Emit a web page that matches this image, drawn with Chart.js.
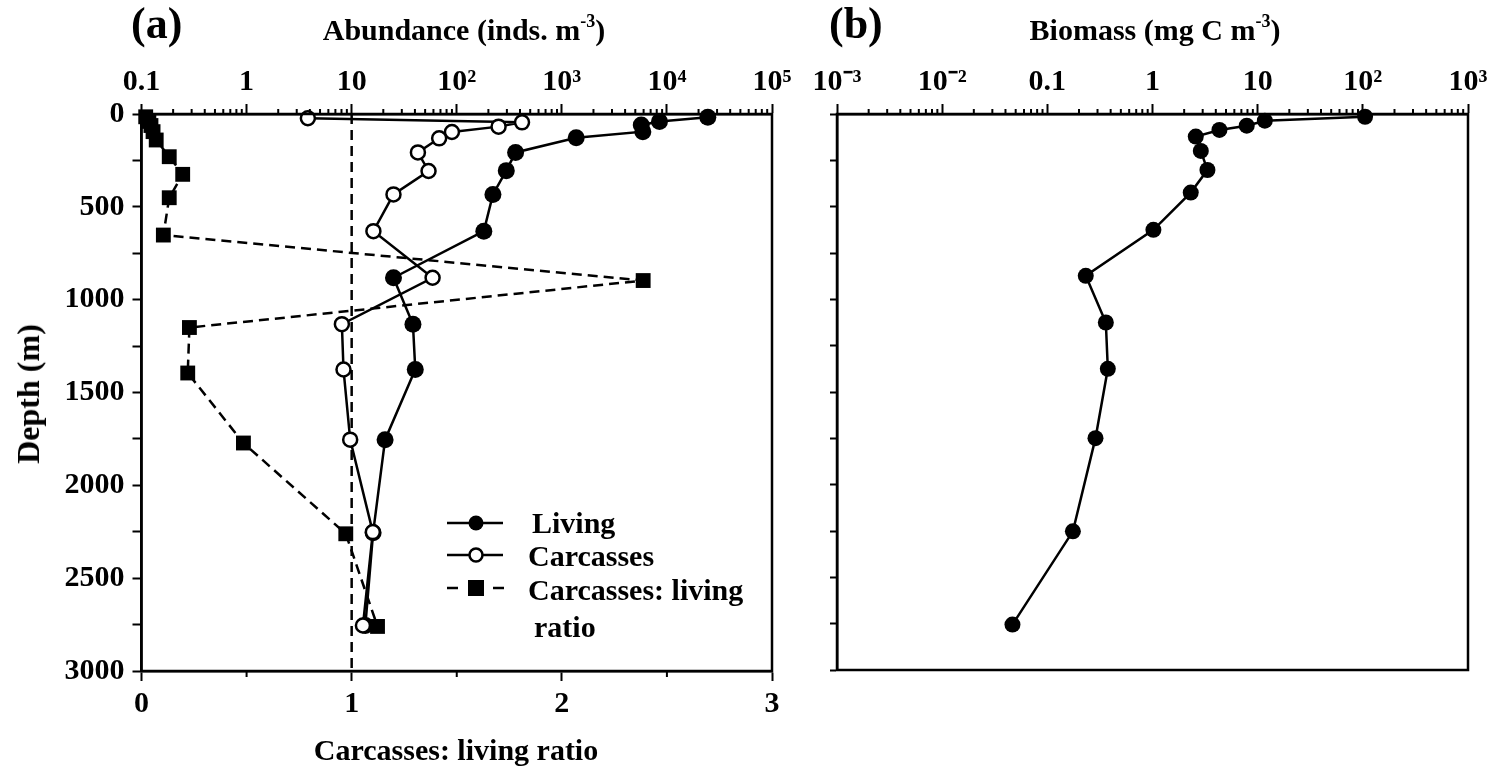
<!DOCTYPE html>
<html><head><meta charset="utf-8">
<script src="https://cdn.jsdelivr.net/npm/chart.js@4.4.1/dist/chart.umd.min.js"></script>
<style>
html,body{margin:0;padding:0;background:#fff;}
body{width:1499px;height:772px;overflow:hidden;position:relative;font-family:"Liberation Serif","Times New Roman",serif;font-weight:bold;color:#000;}
canvas{position:absolute;top:0;}
.t{position:absolute;white-space:nowrap;line-height:1;}
.c{transform:translateX(-50%);}
sup{font-size:60%;vertical-align:0;position:relative;top:-0.7em;}
</style></head><body>
<canvas id="ca" width="800" height="772" style="left:0"></canvas>
<canvas id="cb" width="699" height="772" style="left:800px"></canvas>

<div class="t" style="left:131px;top:2px;font-size:44px;">(a)</div>
<div class="t c" style="left:464px;top:15px;font-size:30px;">Abundance (inds. m<sup>-3</sup>)</div>
<div class="t" style="left:829px;top:2px;font-size:44px;">(b)</div>
<div class="t c" style="left:1155px;top:15px;font-size:30px;">Biomass (mg C m<sup>-3</sup>)</div>
<div class="t" style="left:28px;top:394px;font-size:32px;transform:translate(-50%,-50%) rotate(-90deg);">Depth (m)</div>
<div class="t c" style="left:456px;top:735px;font-size:30px;">Carcasses: living ratio</div>

<svg style="position:absolute;left:0;top:0" width="800" height="772">
  <line x1="447" y1="523" x2="503" y2="523" stroke="#000" stroke-width="2.5"/>
  <circle cx="476" cy="523" r="7.5" fill="#000"/>
  <line x1="447" y1="555" x2="503" y2="555" stroke="#000" stroke-width="2.5"/>
  <circle cx="476" cy="555" r="6.5" fill="#fff" stroke="#000" stroke-width="2.5"/>
  <line x1="447" y1="588" x2="458" y2="588" stroke="#000" stroke-width="2.5"/>
  <line x1="493" y1="588" x2="504" y2="588" stroke="#000" stroke-width="2.5"/>
  <rect x="468" y="580" width="16" height="16" fill="#000"/>
</svg>
<div class="t" style="left:532px;top:508px;font-size:30px;">Living</div>
<div class="t" style="left:528px;top:541px;font-size:30px;">Carcasses</div>
<div class="t" style="left:528px;top:575px;font-size:30px;">Carcasses: living</div>
<div class="t" style="left:534px;top:612px;font-size:30px;">ratio</div>

<script>
// ---------- data ----------
const livingDepth = [18, 41, 59, 95, 128, 207, 305, 433, 631, 882, 1132, 1376, 1754, 2255, 2755];
const livingAbund = [24500, 8500, 5700, 5900, 1370, 363, 296, 221, 181, 25, 38.3, 40.3, 20.8, 16, 13.5];

const carcDepth = [23, 45, 68, 97, 131, 207, 307, 433, 631, 882, 1132, 1376, 1754, 2252, 2755];
const carcAbund = [3.83, 418, 250, 90, 68, 42.7, 53.9, 25.0, 16.1, 58.9, 8.07, 8.36, 9.68, 15.9, 12.8];

const ratioDepth = [15, 40, 62, 95, 140, 230, 325, 451, 652, 897, 1150, 1395, 1772, 2261, 2760];
const ratioValue = [0.02, 0.035, 0.045, 0.055, 0.07, 0.132, 0.196, 0.132, 0.104, 2.387, 0.228, 0.22, 0.485, 0.972, 1.123];

const refLineRatio = [1, 1];
const refLineDepth = [0, 3000];

const bioDepth = [15, 36, 63, 86, 122, 199, 302, 424, 625, 873, 1125, 1375, 1749, 2252, 2755];
const biomass = [105, 11.7, 7.87, 4.33, 2.58, 2.88, 3.33, 2.31, 1.02, 0.232, 0.36, 0.376, 0.287, 0.175, 0.0466];

const abundTicks = [0.1, 1, 10, 100, 1000, 10000, 100000];
const abundLabels = ['0.1', '1', '10', '10\u00B2', '10\u00B3', '10\u2074', '10\u2075'];
const bioTicks = [0.001, 0.01, 0.1, 1, 10, 100, 1000];
const bioLabels = ['10\u207B\u00B3', '10\u207B\u00B2', '0.1', '1', '10', '10\u00B2', '10\u00B3'];
const ratioTicks = [0, 1, 2, 3];
const ratioLabels = ['0', '1', '2', '3'];
const depthTicks = [0, 250, 500, 750, 1000, 1250, 1500, 1750, 2000, 2250, 2500, 2750, 3000];
const depthLabels = ['0', '', '500', '', '1000', '', '1500', '', '2000', '', '2500', '', '3000'];
const ratioMinor = [0.5, 1.5, 2.5];

// ---------- helpers ----------
const pts = (xs, ys) => xs.map((x, i) => ({x: x, y: ys[i]}));
function logMinors(lo, hi) {
  const out = [];
  for (let e = lo; e < hi; e++) for (let k = 2; k <= 9; k++) out.push(k * Math.pow(10, e));
  return out;
}
const FONT = '"Liberation Serif", "Times New Roman", serif';
const tickFont = {family: FONT, size: 30, weight: 'bold'};

const minorTicks = {
  id: 'minorTicks',
  afterDraw(chart, args, opts) {
    const ctx = chart.ctx;
    (opts.list || []).forEach(m => {
      const s = chart.scales[m.scale];
      if (!s) return;
      ctx.save();
      ctx.strokeStyle = '#000';
      ctx.lineWidth = 2;
      m.values.forEach(v => {
        const p = s.getPixelForValue(v);
        ctx.beginPath();
        if (m.side === 'top') { ctx.moveTo(p, s.bottom); ctx.lineTo(p, s.bottom - m.len); }
        else if (m.side === 'bottom') { ctx.moveTo(p, s.top); ctx.lineTo(p, s.top + m.len); }
        ctx.stroke();
      });
      ctx.restore();
    });
  }
};
const boxPlugin = {
  id: 'boxPlugin',
  afterDraw(chart) {
    const a = chart.chartArea, ctx = chart.ctx;
    ctx.save();
    ctx.strokeStyle = '#000';
    ctx.lineWidth = 2.5;
    ctx.strokeRect(a.left, a.top, a.right - a.left, a.bottom - a.top);
    ctx.restore();
  }
};

const axisGrid = len => ({drawOnChartArea: false, drawTicks: true, tickLength: len, tickWidth: 2, tickColor: '#000'});
const axisBorder = {display: true, color: '#000', width: 2.5};

// ---------- chart (a) ----------
new Chart(document.getElementById('ca'), {
  type: 'scatter',
  data: {
    datasets: [
      {
        label: 'Carcasses: living ratio', data: pts(ratioValue, ratioDepth), xAxisID: 'xBottom', yAxisID: 'y',
        showLine: true, borderColor: '#000', borderWidth: 2.5, borderDash: [10, 6], tension: 0,
        pointStyle: 'rect', pointRadius: 10.5, pointBackgroundColor: '#000', pointBorderColor: '#000', pointBorderWidth: 0,
        clip: false
      },
      {
        label: 'Carcasses', data: pts(carcAbund, carcDepth), xAxisID: 'xTop', yAxisID: 'y',
        showLine: true, borderColor: '#000', borderWidth: 2.5, tension: 0,
        pointStyle: 'circle', pointRadius: 7, pointBackgroundColor: '#fff', pointBorderColor: '#000', pointBorderWidth: 2.5,
        clip: false
      },
      {
        label: 'Living', data: pts(livingAbund, livingDepth), xAxisID: 'xTop', yAxisID: 'y',
        showLine: true, borderColor: '#000', borderWidth: 2.5, tension: 0,
        pointStyle: 'circle', pointRadius: 8.5, pointBackgroundColor: '#000', pointBorderColor: '#000', pointBorderWidth: 0,
        clip: false
      },
      {
        label: 'ratio = 1', data: pts(refLineRatio, refLineDepth), xAxisID: 'xBottom', yAxisID: 'y',
        showLine: true, borderColor: '#000', borderWidth: 2.5, borderDash: [10, 6], pointRadius: 0, tension: 0
      }
    ]
  },
  options: {
    responsive: false, animation: false, devicePixelRatio: 1,
    layout: {padding: {left: 0, right: 28, top: 0, bottom: 0}},
    plugins: {legend: {display: false}, tooltip: {enabled: false},
      minorTicks: {list: [
        {scale: 'xTop', side: 'top', len: 5, values: logMinors(-1, 5)},
        {scale: 'xBottom', side: 'bottom', len: 6, values: ratioMinor}
      ]}
    },
    scales: {
      xTop: {
        type: 'logarithmic', position: 'top', min: 0.1, max: 100000,
        afterBuildTicks: s => { s.ticks = abundTicks.map(v => ({value: v})); },
        afterFit: s => { s.height = 114; },
        ticks: {autoSkip: false, maxRotation: 0, font: tickFont, color: '#000', padding: 4,
          callback: v => abundLabels[abundTicks.indexOf(v)]},
        grid: axisGrid(10), border: axisBorder
      },
      xBottom: {
        type: 'linear', position: 'bottom', min: 0, max: 3,
        afterBuildTicks: s => { s.ticks = ratioTicks.map(v => ({value: v})); },
        afterFit: s => { s.height = 101; },
        ticks: {autoSkip: false, maxRotation: 0, font: tickFont, color: '#000', padding: 5,
          callback: v => ratioLabels[ratioTicks.indexOf(v)]},
        grid: axisGrid(10), border: axisBorder
      },
      y: {
        type: 'linear', position: 'left', reverse: true, min: 0, max: 3000,
        afterBuildTicks: s => { s.ticks = depthTicks.map(v => ({value: v})); },
        afterFit: s => { s.width = 141.5; },
        ticks: {autoSkip: false, font: tickFont, color: '#000', padding: 8,
          callback: v => depthLabels[depthTicks.indexOf(v)]},
        grid: axisGrid(9), border: axisBorder
      }
    }
  },
  plugins: [minorTicks, boxPlugin]
});

// ---------- chart (b) ----------
new Chart(document.getElementById('cb'), {
  type: 'scatter',
  data: {
    datasets: [{
      label: 'Biomass', data: pts(biomass, bioDepth), xAxisID: 'xTop', yAxisID: 'y',
      showLine: true, borderColor: '#000', borderWidth: 2.5, tension: 0,
      pointStyle: 'circle', pointRadius: 8, pointBackgroundColor: '#000', pointBorderColor: '#000', pointBorderWidth: 0,
      clip: false
    }]
  },
  options: {
    responsive: false, animation: false, devicePixelRatio: 1,
    layout: {padding: {left: 0, right: 31, top: 0, bottom: 102}},
    plugins: {legend: {display: false}, tooltip: {enabled: false},
      minorTicks: {list: [{scale: 'xTop', side: 'top', len: 5, values: logMinors(-3, 3)}]}
    },
    scales: {
      xTop: {
        type: 'logarithmic', position: 'top', min: 0.001, max: 1000,
        afterBuildTicks: s => { s.ticks = bioTicks.map(v => ({value: v})); },
        afterFit: s => { s.height = 114; },
        ticks: {autoSkip: false, maxRotation: 0, font: tickFont, color: '#000', padding: 4,
          callback: v => bioLabels[bioTicks.indexOf(v)]},
        grid: axisGrid(10), border: axisBorder
      },
      y: {
        type: 'linear', position: 'left', reverse: true, min: 0, max: 3000,
        afterBuildTicks: s => { s.ticks = depthTicks.map(v => ({value: v})); },
        afterFit: s => { s.width = 37; },
        ticks: {autoSkip: false, font: tickFont, color: '#000', padding: 0, callback: () => ''},
        grid: axisGrid(7), border: axisBorder
      }
    }
  },
  plugins: [minorTicks, boxPlugin]
});
</script>
</body></html>
